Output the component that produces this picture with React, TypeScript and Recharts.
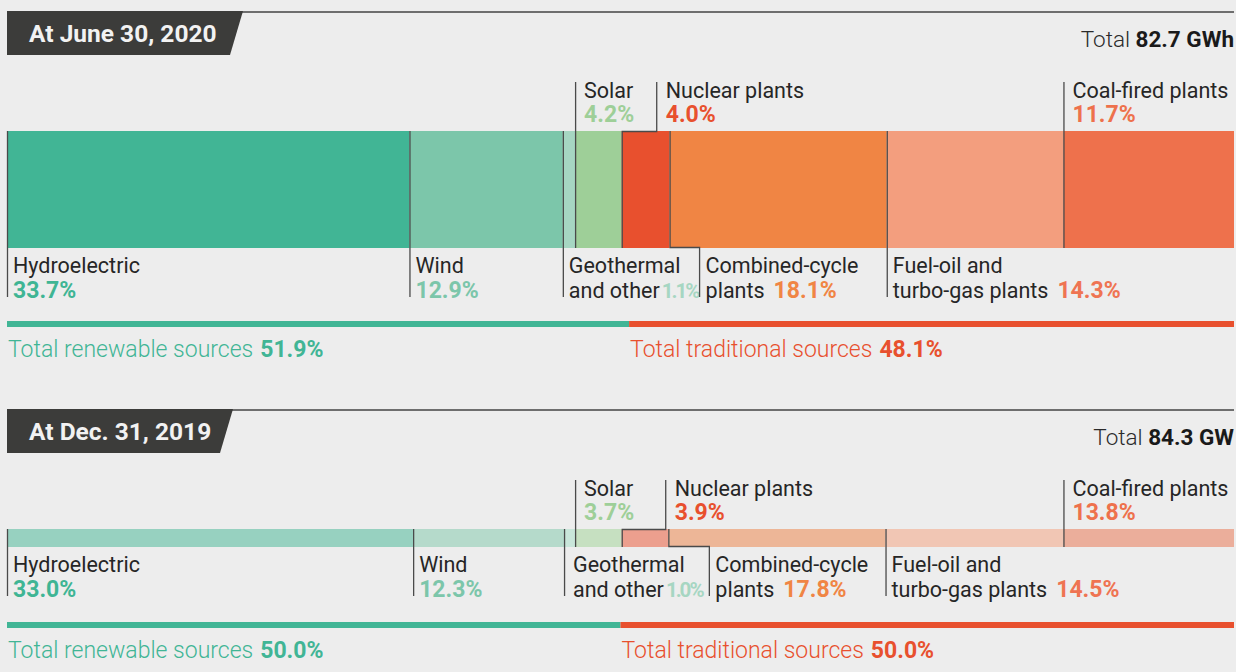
import React from 'react';
import { BarChart, Bar, XAxis, YAxis } from 'recharts';

// ---- data ----
const segmentKeys = ['hydro', 'wind', 'geo', 'solar', 'nuclear', 'cc', 'fo', 'coal'];
const segmentLabelLines: string[][] = [
  ['Hydroelectric'],
  ['Wind'],
  ['Geothermal', 'and other'],
  ['Solar'],
  ['Nuclear plants'],
  ['Combined-cycle', 'plants'],
  ['Fuel-oil and', 'turbo-gas plants'],
  ['Coal-fired plants'],
];
// percentages printed in the labels
const labelShare2020 = [33.7, 12.9, 1.1, 4.2, 4.0, 18.1, 14.3, 11.7];
const labelShare2019 = [33.0, 12.3, 1.0, 3.7, 3.9, 17.8, 14.5, 13.8];
// segment lengths as drawn in the picture (% of the bar)
const barLength2020 = [32.8, 12.5, 1.0, 3.8, 3.9, 17.7, 14.4, 13.9];
const barLength2019 = [33.1, 12.3, 0.9, 3.8, 3.8, 17.7, 14.5, 13.9];

const totalKeys = ['renewable', 'traditional'];
const totalLabels = ['Total renewable sources', 'Total traditional sources'];
const totalShare2020 = [51.9, 48.1];
const totalShare2019 = [50.0, 50.0];
const totalBar2020 = [50.7, 49.3];
const totalBar2019 = [50.0, 50.0];

const panelTitles = ['At June 30, 2020', 'At Dec. 31, 2019'];
const panelTotals = ['82.7 GWh', '84.3 GW'];

// ---- styles ----
const FONT = 'Roboto, "Liberation Sans", sans-serif';
const fill2020 = ['#41b595', '#7cc6aa', '#a6d6c2', '#9ecf98', '#e8502e', '#f08544', '#f39e7e', '#ee714c'];
const fill2019 = ['#97d1c0', '#b5dacb', '#c9e6da', '#c6e0c1', '#ec9f8e', '#edb697', '#f1c6b4', '#ebae9b'];
const valueColors = ['#3fb594', '#7cc6aa', '#a6d6c2', '#9ecf98', '#e8502e', '#f08544', '#ef7452', '#ee714c'];
const totalColors = ['#41b595', '#e8502e'];
const LINE = '#4a4a4a';
const LABEL_SIZE = 21.5;
const VALUE_SIZE = 23;
const TEXT = '#262626';
// label placement per segment
const placement = ['below', 'below', 'below', 'above', 'aboveElbow', 'belowElbow', 'below', 'above'];

type PanelLayout = { nuclearElbow: number; ccElbow: number; geoDx: number };
const layout2020: PanelLayout = { nuclearElbow: 35, ccElbow: 30, geoDx: 6 };
const layout2019: PanelLayout = { nuclearElbow: 44, ccElbow: 41, geoDx: 9 };

const fmt = (v: number) => v.toFixed(1) + '%';

function SegmentShape(props: any, i: number, shares: number[], lay: PanelLayout) {
  const x = Number(props.x), y = Number(props.y), w = Number(props.width), h = Number(props.height);
  const fill = props.fill;
  const place = placement[i];
  const lines = segmentLabelLines[i];
  const value = fmt(shares[i]);
  const vColor = valueColors[i];
  let path = '';
  let tx = 0;
  let b1 = 0, b2 = 0;
  const bottom = y + h;
  const lx = x + 0.5;
  if (place === 'below') {
    path = `M${lx},${y} L${lx},${bottom + 49}`;
    tx = x + (i === 2 ? lay.geoDx : 6);
    b1 = bottom + 25; b2 = bottom + 50;
  } else if (place === 'above') {
    path = `M${lx},${y - 49} L${lx},${bottom}`;
    tx = x + 9;
    b1 = y - 33; b2 = y - 9;
  } else if (place === 'aboveElbow') {
    const ex = x + lay.nuclearElbow;
    path = `M${lx},${bottom} L${lx},${y + 0.5} L${ex},${y + 0.5} L${ex},${y - 49}`;
    tx = ex + 9;
    b1 = y - 33; b2 = y - 9;
  } else {
    const ex = x + lay.ccElbow;
    path = `M${lx},${y} L${lx},${bottom - 0.5} L${ex},${bottom - 0.5} L${ex},${bottom + 49}`;
    tx = ex + 6;
    b1 = bottom + 25; b2 = bottom + 50;
  }
  const isGeo = i === 2;
  return (
    <g>
      <rect x={x} y={y} width={w} height={h} fill={fill} />
      <path d={path} stroke={LINE} strokeWidth={1.3} fill="none" />
      <text x={tx} y={b1} fontFamily={FONT} fontSize={LABEL_SIZE} fill={TEXT}>{lines[0]}</text>
      {lines.length > 1 ? (
        <text x={tx} y={b2} fontFamily={FONT} fontSize={LABEL_SIZE} fill={TEXT}>
          {lines[1]}
          <tspan dx={isGeo ? 2 : 9} fontWeight={700} fill={vColor} letterSpacing={isGeo ? -2 : 0}
            fontSize={isGeo ? 20.5 : VALUE_SIZE}>{value}</tspan>
        </text>
      ) : (
        <text x={tx} y={b2} fontFamily={FONT} fontSize={VALUE_SIZE} fontWeight={700} fill={vColor}>{value}</text>
      )}
    </g>
  );
}

function TotalShape(props: any, i: number, shares: number[]) {
  const x = Number(props.x), y = Number(props.y), w = Number(props.width), h = Number(props.height);
  return (
    <g>
      <rect x={x} y={y} width={w} height={h} fill={props.fill} />
      <text x={x + 1} y={y + 36} fontFamily={FONT} fontSize={23} fontWeight={300} fill={totalColors[i]}>
        {totalLabels[i]}
        <tspan dx={7} fontWeight={700}>{fmt(shares[i])}</tspan>
      </text>
    </g>
  );
}

function MainBar({ lengths, shares, fills, lay, top, height, mTop, barH }: any) {
  const row: any = { name: 'share' };
  segmentKeys.forEach((k, i) => (row[k] = lengths[i]));
  return (
    <div style={{ position: 'absolute', left: 0, top }}>
      <BarChart width={1236} height={height} data={[row]} layout="vertical"
        margin={{ top: mTop, right: 2, bottom: height - mTop - barH, left: 7 }}
        barCategoryGap="0%" barGap={0} style={{ overflow: 'visible' }}>
        <XAxis type="number" domain={[0, 100]} hide />
        <YAxis type="category" dataKey="name" hide />
        {segmentKeys.map((k, i) => (
          <Bar key={k} dataKey={k} stackId="s" fill={fills[i]} isAnimationActive={false}
            shape={(p: any) => SegmentShape(p, i, shares, lay)} />
        ))}
      </BarChart>
    </div>
  );
}

function TotalBar({ lengths, shares, top }: any) {
  const row: any = { name: 'total' };
  totalKeys.forEach((k, i) => (row[k] = lengths[i]));
  return (
    <div style={{ position: 'absolute', left: 0, top }}>
      <BarChart width={1236} height={60} data={[row]} layout="vertical"
        margin={{ top: 11, right: 2, bottom: 43, left: 7 }} barCategoryGap="0%" barGap={0}
        style={{ overflow: 'visible' }}>
        <XAxis type="number" domain={[0, 100]} hide />
        <YAxis type="category" dataKey="name" hide />
        {totalKeys.map((k, i) => (
          <Bar key={k} dataKey={k} stackId="t" fill={totalColors[i]} isAnimationActive={false}
            shape={(p: any) => TotalShape(p, i, shares)} />
        ))}
      </BarChart>
    </div>
  );
}

function Header({ top, title, total, boxW }: any) {
  return (
    <svg width={1236} height={60} style={{ position: 'absolute', left: 0, top }}>
      <line x1={7} x2={1234} y1={2} y2={2} stroke="#6e6e6e" strokeWidth={2} />
      <polygon points={`7,1 ${boxW},1 ${boxW - 13},45 7,45`} fill="#3c3c3a" />
      <text x={29} y={32} fontFamily={FONT} fontSize={24.5} fontWeight={700} fill="#f2f2f2">{title}</text>
      <text x={1234} y={37} textAnchor="end" fontFamily={FONT} fontSize={22.5} fontWeight={300} fill="#2a2a2a">
        Total <tspan fontWeight={700} fill="#1a1a1a">{total}</tspan>
      </text>
    </svg>
  );
}

export default function App() {
  return (
    <div style={{ position: 'absolute', left: 0, top: 0, width: 1236, height: 672, background: '#ededed', overflow: 'hidden' }}>
      <Header top={10} title={panelTitles[0]} total={panelTotals[0]} boxW={243} />
      <MainBar lengths={barLength2020} shares={labelShare2020} fills={fill2020} lay={layout2020}
        top={60} height={260} mTop={71} barH={117} />
      <TotalBar lengths={totalBar2020} shares={totalShare2020} top={310} />
      <Header top={408} title={panelTitles[1]} total={panelTotals[1]} boxW={233} />
      <MainBar lengths={barLength2019} shares={labelShare2019} fills={fill2019} lay={layout2019}
        top={460} height={160} mTop={69} barH={18} />
      <TotalBar lengths={totalBar2019} shares={totalShare2019} top={611} />
    </div>
  );
}
